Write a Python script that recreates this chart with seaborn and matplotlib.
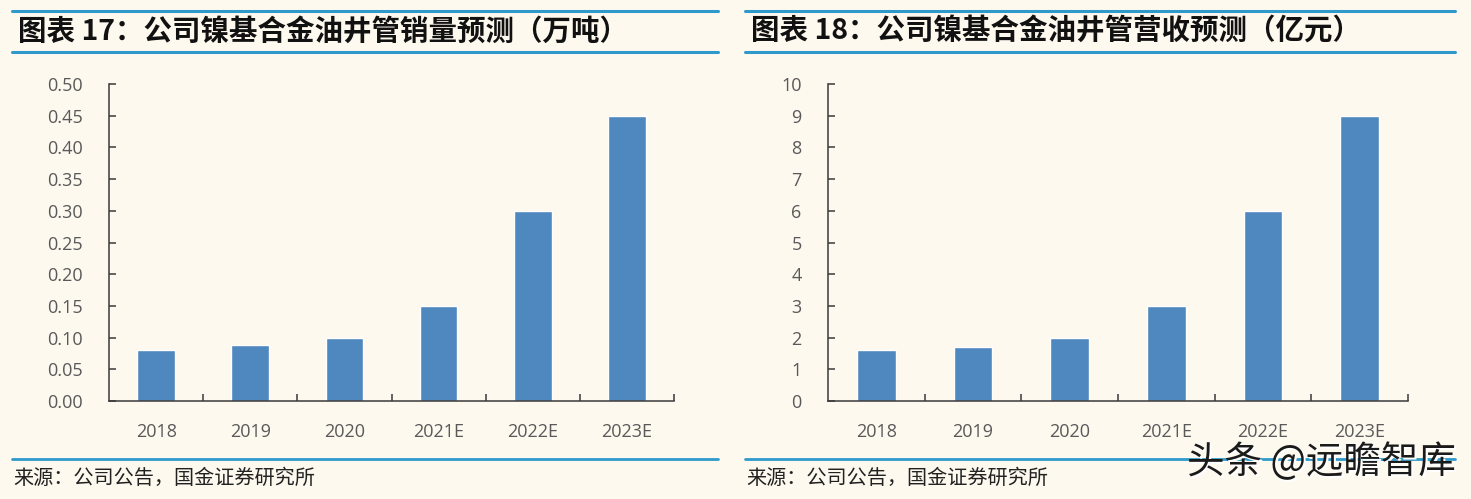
import matplotlib
matplotlib.use("Agg")
import matplotlib.pyplot as plt
from matplotlib.lines import Line2D
from matplotlib.ticker import FixedLocator
import seaborn as sns
import pandas as pd

years = ["2018", "2019", "2020", "2021E", "2022E", "2023E"]
volume = [0.08, 0.088, 0.10, 0.15, 0.30, 0.45]      # 万吨
revenue = [1.6, 1.7, 2.0, 3.0, 6.0, 9.0]             # 亿元
yticks_left = [0.00, 0.05, 0.10, 0.15, 0.20, 0.25, 0.30, 0.35, 0.40, 0.45, 0.50]
yticks_right = [0, 1, 2, 3, 4, 5, 6, 7, 8, 9, 10]
title_left = "图表 17：公司镍基合金油井管销量预测（万吨）"
title_right = "图表 18：公司镍基合金油井管营收预测（亿元）"
source = "来源：公司公告，国金证券研究所"
watermark = "头条 @远瞻智库"

sns.set_theme(style="white")
plt.rcParams['font.family'] = ['Noto Sans CJK SC', 'DejaVu Sans']

BG = "#FEF9EF"
BAR = "#4F88BE"
LINE = "#2E9ACB"
TICK = "#595959"
SPINE = "#3A3A3A"

W, H = 1471, 499
fig = plt.figure(figsize=(W / 100, H / 100), dpi=100, facecolor=BG)

def fx(px):
    return px / W

def fy(py):
    return 1 - py / H

panels = [
    dict(x0=109, x1=674, lx0=12, lx1=718, vals=volume, ticks=yticks_left,
         fmt="{:.2f}", title=title_left),
    dict(x0=828, x1=1408, lx0=745, lx1=1455, vals=revenue, ticks=yticks_right,
         fmt="{:d}", title=title_right),
]

for p in panels:
    ax = fig.add_axes([fx(p["x0"]), fy(401), fx(p["x1"] - p["x0"]), (401 - 84) / H])
    ax.set_facecolor(BG)
    df = pd.DataFrame({"year": years, "val": p["vals"]})
    sns.barplot(data=df, x="year", y="val", color=BAR, saturation=1, width=0.4, ax=ax)
    ax.set_xlim(-0.5, len(years) - 0.5)
    ax.set_ylim(p["ticks"][0], p["ticks"][-1])
    ax.set_yticks(p["ticks"])
    ax.set_yticklabels([p["fmt"].format(t) for t in p["ticks"]])
    ax.set_xlabel("")
    ax.set_ylabel("")
    for s in ["top", "right"]:
        ax.spines[s].set_visible(False)
    for s in ["left", "bottom"]:
        ax.spines[s].set_color(SPINE)
        ax.spines[s].set_linewidth(1.1)
    ax.xaxis.set_minor_locator(FixedLocator([i + 0.5 for i in range(len(years))]))
    ax.tick_params(axis="y", which="major", direction="in", length=5, width=1.1,
                   color=SPINE, pad=19, labelsize=13, labelcolor=TICK, left=True)
    ax.tick_params(axis="x", which="major", length=0, pad=16, labelsize=13, labelcolor=TICK)
    ax.tick_params(axis="x", which="minor", direction="in", length=5, width=1.1,
                   color=SPINE, bottom=True)
    for lab in ax.get_xticklabels() + ax.get_yticklabels():
        lab.set_family(["Open Sans", "DejaVu Sans"])

    # header lines and title
    fig.add_artist(Line2D([fx(p["lx0"]), fx(p["lx1"])], [fy(11), fy(11)], color=LINE, lw=2.2))
    fig.add_artist(Line2D([fx(p["lx0"]), fx(p["lx1"])], [fy(52), fy(52)], color=LINE, lw=2.2))
    fig.text(fx(p["lx0"] + 6), fy(32), p["title"], fontsize=20.5, fontweight="bold",
             fontstyle="italic", color="#111111", va="center", ha="left")
    # footer line and source
    fig.add_artist(Line2D([fx(p["lx0"]), fx(p["lx1"])], [fy(459), fy(459)], color=LINE, lw=2.0))
    fig.text(fx(p["lx0"] + 1), fy(478), source, fontsize=14.5, color="#222222",
             va="center", ha="left")

# watermark
fig.text(fx(1456) + 0.0012, fy(463) - 0.004, watermark, fontsize=27, color="white",
         va="center", ha="right")
fig.text(fx(1456), fy(463), watermark, fontsize=27, color="#1A1A1A",
         va="center", ha="right")

fig.savefig("out.png", dpi=100, facecolor=BG)
